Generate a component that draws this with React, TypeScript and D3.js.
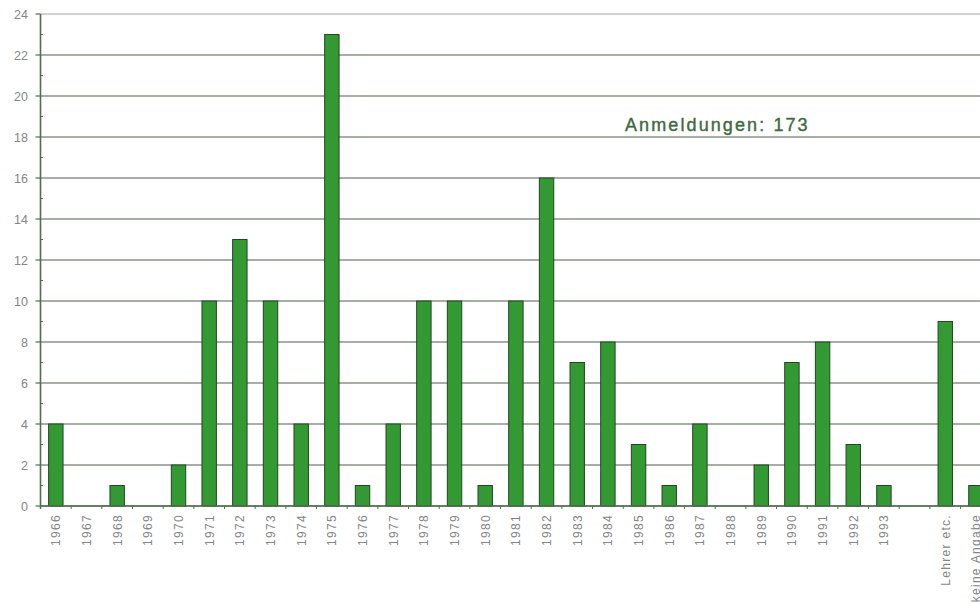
import React from "react";
import * as d3 from "d3";

const categories = [
  "1966","1967","1968","1969","1970","1971","1972","1973","1974","1975",
  "1976","1977","1978","1979","1980","1981","1982","1983","1984","1985",
  "1986","1987","1988","1989","1990","1991","1992","1993","","Lehrer etc.","keine Angabe",
];
const values = [
  4,0,1,0,2,10,13,10,4,23,
  1,4,10,10,1,10,16,7,8,3,
  1,4,0,2,7,8,3,1,0,9,1,
];
const yTicks = [0,2,4,6,8,10,12,14,16,18,20,22,24];
const minorTicks = [1,3,5,7,9,11,13,15,17,19,21,23];
const annotation = "Anmeldungen: 173";

export default function App() {
  const W = 980, H = 604;
  const left = 40.5, top = 14, bottom = 506;
  const step = 30.67;
  const x = d3.scaleBand<string>()
    .domain(categories.map((c, i) => i + ""))
    .range([left, left + step * categories.length])
    .paddingInner(0.53)
    .paddingOuter(0.265);
  const y = d3.scaleLinear().domain([0, 24]).range([bottom, top]);
  const band = d3.scaleBand<string>()
    .domain(categories.map((c, i) => i + ""))
    .range([left, left + step * categories.length]);
  const font = "Arial, Liberation Sans, sans-serif";
  return (
    <svg width={W} height={H} style={{ position: "absolute", left: 0, top: 0, background: "#fff" }}>
      {yTicks.map((t) => (
        <line key={"g" + t} x1={left} x2={W} y1={y(t)} y2={y(t)}
          stroke={t === 24 ? "#cdd3cd" : "#a6aea6"} strokeWidth={1.8} />
      ))}
      {yTicks.map((t) => (
        <g key={"yt" + t}>
          <line x1={left - 5} x2={left} y1={y(t)} y2={y(t)} stroke="#4f6f4f" strokeWidth={1.2} />
          <text x={28} y={y(t) + 4.5} textAnchor="end" fontFamily={font}
            fontSize={12.5} fill="#858585">{t}</text>
        </g>
      ))}
      {minorTicks.map((t) => (
        <line key={"m" + t} x1={left} x2={left + 2.5} y1={y(t)} y2={y(t)} stroke="#4f6f4f" strokeWidth={1} />
      ))}
      {categories.map((c, i) => (
        <line key={"xt" + i} x1={band(i + "")!} x2={band(i + "")!} y1={bottom} y2={bottom + 3}
          stroke="#4f6f4f" strokeWidth={1} />
      ))}
      {values.map((v, i) => v > 0 && (
        <rect key={"b" + i} x={x(i + "")!} y={y(v)} width={x.bandwidth()} height={bottom - y(v)}
          fill="#339933" stroke="#264426" strokeWidth={1} />
      ))}
      <line x1={left} x2={left} y1={top} y2={bottom + 3} stroke="#4f6f4f" strokeWidth={1.6} />
      <line x1={left} x2={W} y1={bottom} y2={bottom} stroke="#4f6f4f" strokeWidth={1.6} />
      {categories.map((c, i) => c && (
        <text key={"xl" + i} transform={`translate(${band(i + "")! + step / 2 + 4.5},${bottom + 8}) rotate(-90)`}
          textAnchor="end" fontFamily={font} fontSize={12} letterSpacing={1.3} fill="#858585">{c}</text>
      ))}
      <text x={625} y={131} fontFamily={font} fontSize={18} letterSpacing={2.1} fill="#3f6a3f"
        stroke="#3f6a3f" strokeWidth={0.4}>{annotation}</text>
    </svg>
  );
}
